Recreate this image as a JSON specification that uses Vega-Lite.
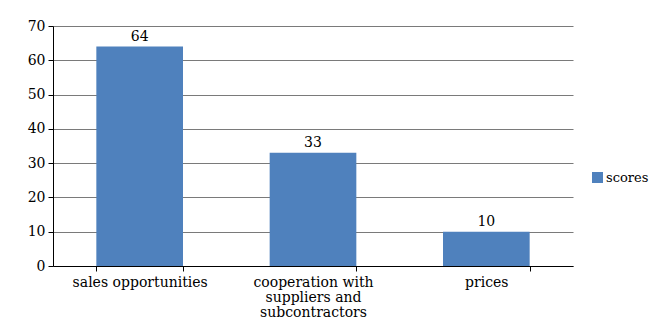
{
  "$schema": "https://vega.github.io/schema/vega-lite/v6.json",
  "autosize": "none",
  "width": 520,
  "height": 240,
  "padding": {"left": 53, "top": 26, "right": 88, "bottom": 70},
  "background": "white",
  "config": {
    "view": {"stroke": null},
    "axis": {"labelFont": "DejaVu Serif", "labelFontSize": 14, "labelColor": "#000000", "domainColor": "#000000", "tickColor": "#000000", "domainWidth": 1, "tickWidth": 1}
  },
  "data": {
    "values": [
      {"category": "sales opportunities", "series": "scores", "value": 64},
      {"category": "cooperation with suppliers and subcontractors", "series": "scores", "value": 33},
      {"category": "prices", "series": "scores", "value": 10}
    ]
  },
  "encoding": {
    "x": {
      "field": "category",
      "type": "nominal",
      "sort": null,
      "scale": {"paddingInner": 0.5, "paddingOuter": 0.25},
      "axis": {
        "title": null,
        "labelFont": "DejaVu Serif",
        "labelAngle": 0,
        "tickBand": "extent",
        "tickSize": 5,
        "labelPadding": 4,
        "labelLineHeight": 15,
        "labelBaseline": "top",
        "labelExpr": "datum.label == 'cooperation with suppliers and subcontractors' ? ['cooperation with', 'suppliers and', 'subcontractors'] : datum.label"
      }
    },
    "y": {
      "field": "value",
      "type": "quantitative",
      "scale": {"domain": [0, 70], "nice": false},
      "axis": {
        "title": null,
        "labelFont": "DejaVu Serif",
        "values": [0, 10, 20, 30, 40, 50, 60, 70],
        "tickSize": 5,
        "labelPadding": 3,
        "grid": true,
        "gridColor": "#7a7a7a",
        "gridWidth": 1.2
      }
    }
  },
  "layer": [
    {
      "mark": {"type": "bar", "color": "#4F81BD"},
      "encoding": {
        "color": {
          "field": "series",
          "type": "nominal",
          "scale": {"range": ["#4F81BD"]},
          "legend": {
            "title": null,
            "orient": "none",
            "legendX": 538,
            "legendY": 145,
            "symbolType": "square",
            "symbolSize": 121,
            "symbolStrokeWidth": 0,
            "labelFont": "DejaVu Serif",
            "labelFontSize": 13,
            "labelColor": "#000000",
            "labelOffset": 2
          }
        }
      }
    },
    {
      "mark": {"type": "text", "baseline": "bottom", "dy": -3, "font": "DejaVu Serif", "fontSize": 14, "color": "#000000"},
      "encoding": {"text": {"field": "value", "type": "quantitative"}}
    }
  ]
}
